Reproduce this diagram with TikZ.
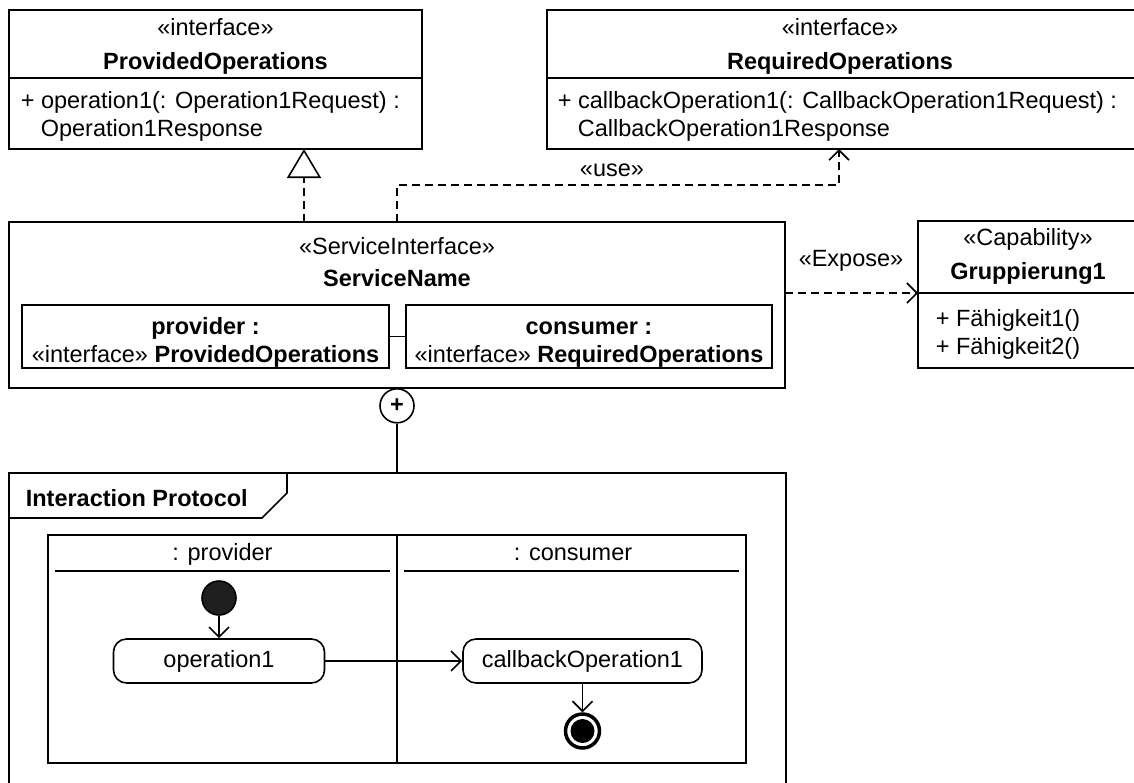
\documentclass[tikz,border=0pt]{standalone}
\usepackage{fontspec}
\setmainfont{Liberation Sans}
\usetikzlibrary{arrows.meta,positioning}

\newcommand{\umlfont}{\fontsize{23.5}{28}\selectfont}

\tikzset{
  umlbox/.style={draw, anchor=north west, inner sep=0pt, outer sep=0pt},
  txt/.style={anchor=base, inner sep=0pt},
  optxt/.style={anchor=base west, inner sep=0pt},
  bold/.style={font=\umlfont\bfseries},
  dashline/.style={dash pattern=on 8pt off 5pt},
  opentip/.style={-{Straight Barb[length=10pt,width=20pt]}},
  action/.style={draw, rounded corners=13pt, minimum height=44pt, inner sep=0pt},
}

\begin{document}
\begin{tikzpicture}[x=1pt,y=-1pt,line width=1.6pt,font=\umlfont]
  \useasboundingbox (0,0) rectangle (1134,782);
  \clip (0,0) rectangle (1134,782);

  % interfaces
  \node[umlbox, minimum width=413pt, minimum height=139pt] (provops) at (9,10) {};
  \draw ([yshift=-68pt]provops.north west) -- ([yshift=-68pt]provops.north east);
  \node[txt] (provstereo) at (215.5,35) {«interface»};
  \node[txt, bold] (provname) at (215.5,69) {ProvidedOperations};
  \node[optxt] (provop) at (20,108) {+ operation1(: Operation1Request) :};
  \node[optxt] (provret) at (40,136) {Operation1Response};

  \node[umlbox, minimum width=591pt, minimum height=139pt] (reqops) at (547,10) {};
  \draw ([yshift=-68pt]reqops.north west) -- ([yshift=-68pt]reqops.north east);
  \node[txt] (reqstereo) at (840,35) {«interface»};
  \node[txt, bold] (reqname) at (840,69) {RequiredOperations};
  \node[optxt] (reqop) at (557,108) {+ callbackOperation1(: CallbackOperation1Request) :};
  \node[optxt] (reqret) at (577,136) {CallbackOperation1Response};

  % service interface
  \node[umlbox, minimum width=776pt, minimum height=166pt] (service) at (9,222) {};
  \node[txt] (servstereo) at (397,254) {«ServiceInterface»};
  \node[txt, bold] (servname) at (397,286) {ServiceName};
  \node[umlbox, minimum width=367pt, minimum height=63pt] (provpart) at (22,305) {};
  \node[txt, bold] (provrole) at (205.5,334) {provider :};
  \node[txt] (provtype) at (205.5,362) {«interface» \textbf{ProvidedOperations}};
  \node[umlbox, minimum width=366pt, minimum height=63pt] (conspart) at (406,305) {};
  \node[txt, bold] (consrole) at (589,334) {consumer :};
  \node[txt] (constype) at (589,362) {«interface» \textbf{RequiredOperations}};
  \draw (provpart.east) -- (conspart.west);

  % capability
  \node[umlbox, minimum width=220pt, minimum height=147pt] (capab) at (918,221) {};
  \coordinate (capdiv) at ([yshift=-72pt]capab.north west);
  \draw (capdiv) -- ([yshift=-72pt]capab.north east);
  \node[txt] (capstereo) at (1028,245) {«Capability»};
  \node[txt, bold] (capname) at (1028,279) {Gruppierung1};
  \node[optxt] (capop1) at (935,326) {+ Fähigkeit1()};
  \node[optxt] (capop2) at (935,354) {+ Fähigkeit2()};

  % dependencies
  \coordinate (realfoot) at (304,222);
  \draw[dashline, -{Triangle[open,length=29pt,width=34pt]}] (realfoot) -- (realfoot |- provops.south);
  \coordinate (usebend) at (839,185);
  \draw[dashline, opentip] (service.north) |- (usebend) -- (usebend |- reqops.south);
  \node[txt] (uselbl) at (612,176) {«use»};
  \draw[dashline, opentip] (service.east |- capdiv) -- (capdiv);
  \node[txt] (exposelbl) at (851,266) {«Expose»};

  % interaction protocol
  \node[draw, circle, minimum size=34pt, inner sep=0pt, anchor=north, bold] (nest) at (service.south) {+};
  \node[umlbox, minimum width=777pt, minimum height=330pt] (protocol) at (9,473) {};
  \draw (nest.south) -- (nest.south |- protocol.north);
  \draw ([yshift=-45pt]protocol.north west) -- ++(253,0) -- ++(25,-25) -- ++(0,-20);
  \node[optxt, bold] (protolbl) at (25,506) {Interaction Protocol};

  \node[umlbox, minimum width=698pt, minimum height=228pt] (lanes) at (48,535) {};
  \draw (lanes.north) -- (lanes.south);
  \node[txt] (provlane) at (222.5,560) {: provider};
  \node[txt] (conslane) at (573,560) {: consumer};
  \draw ([xshift=7pt,yshift=-36pt]lanes.north west) -- ([xshift=-7pt,yshift=-36pt]lanes.north);
  \draw ([xshift=7pt,yshift=-36pt]lanes.north) -- ([xshift=-7pt,yshift=-36pt]lanes.north east);

  \node[draw, circle, fill=black!88, minimum size=34pt, inner sep=0pt] (start) at (219,598) {};
  \node[action, minimum width=211pt] (op1) at (219,661) {operation1};
  \node[action, minimum width=239pt] (callback) at (582.5,661) {callbackOperation1};
  \node[draw, circle, line width=3.5pt, minimum size=34pt, inner sep=0pt] (stop) at (582.5,731) {};
  \node[circle, fill=black, minimum size=24pt, inner sep=0pt] (stopdot) at (stop) {};

  \draw[opentip] (start) -- (op1);
  \draw[opentip] (op1) -- (callback);
  \draw[opentip] (callback) -- (stop);
\end{tikzpicture}
\end{document}
